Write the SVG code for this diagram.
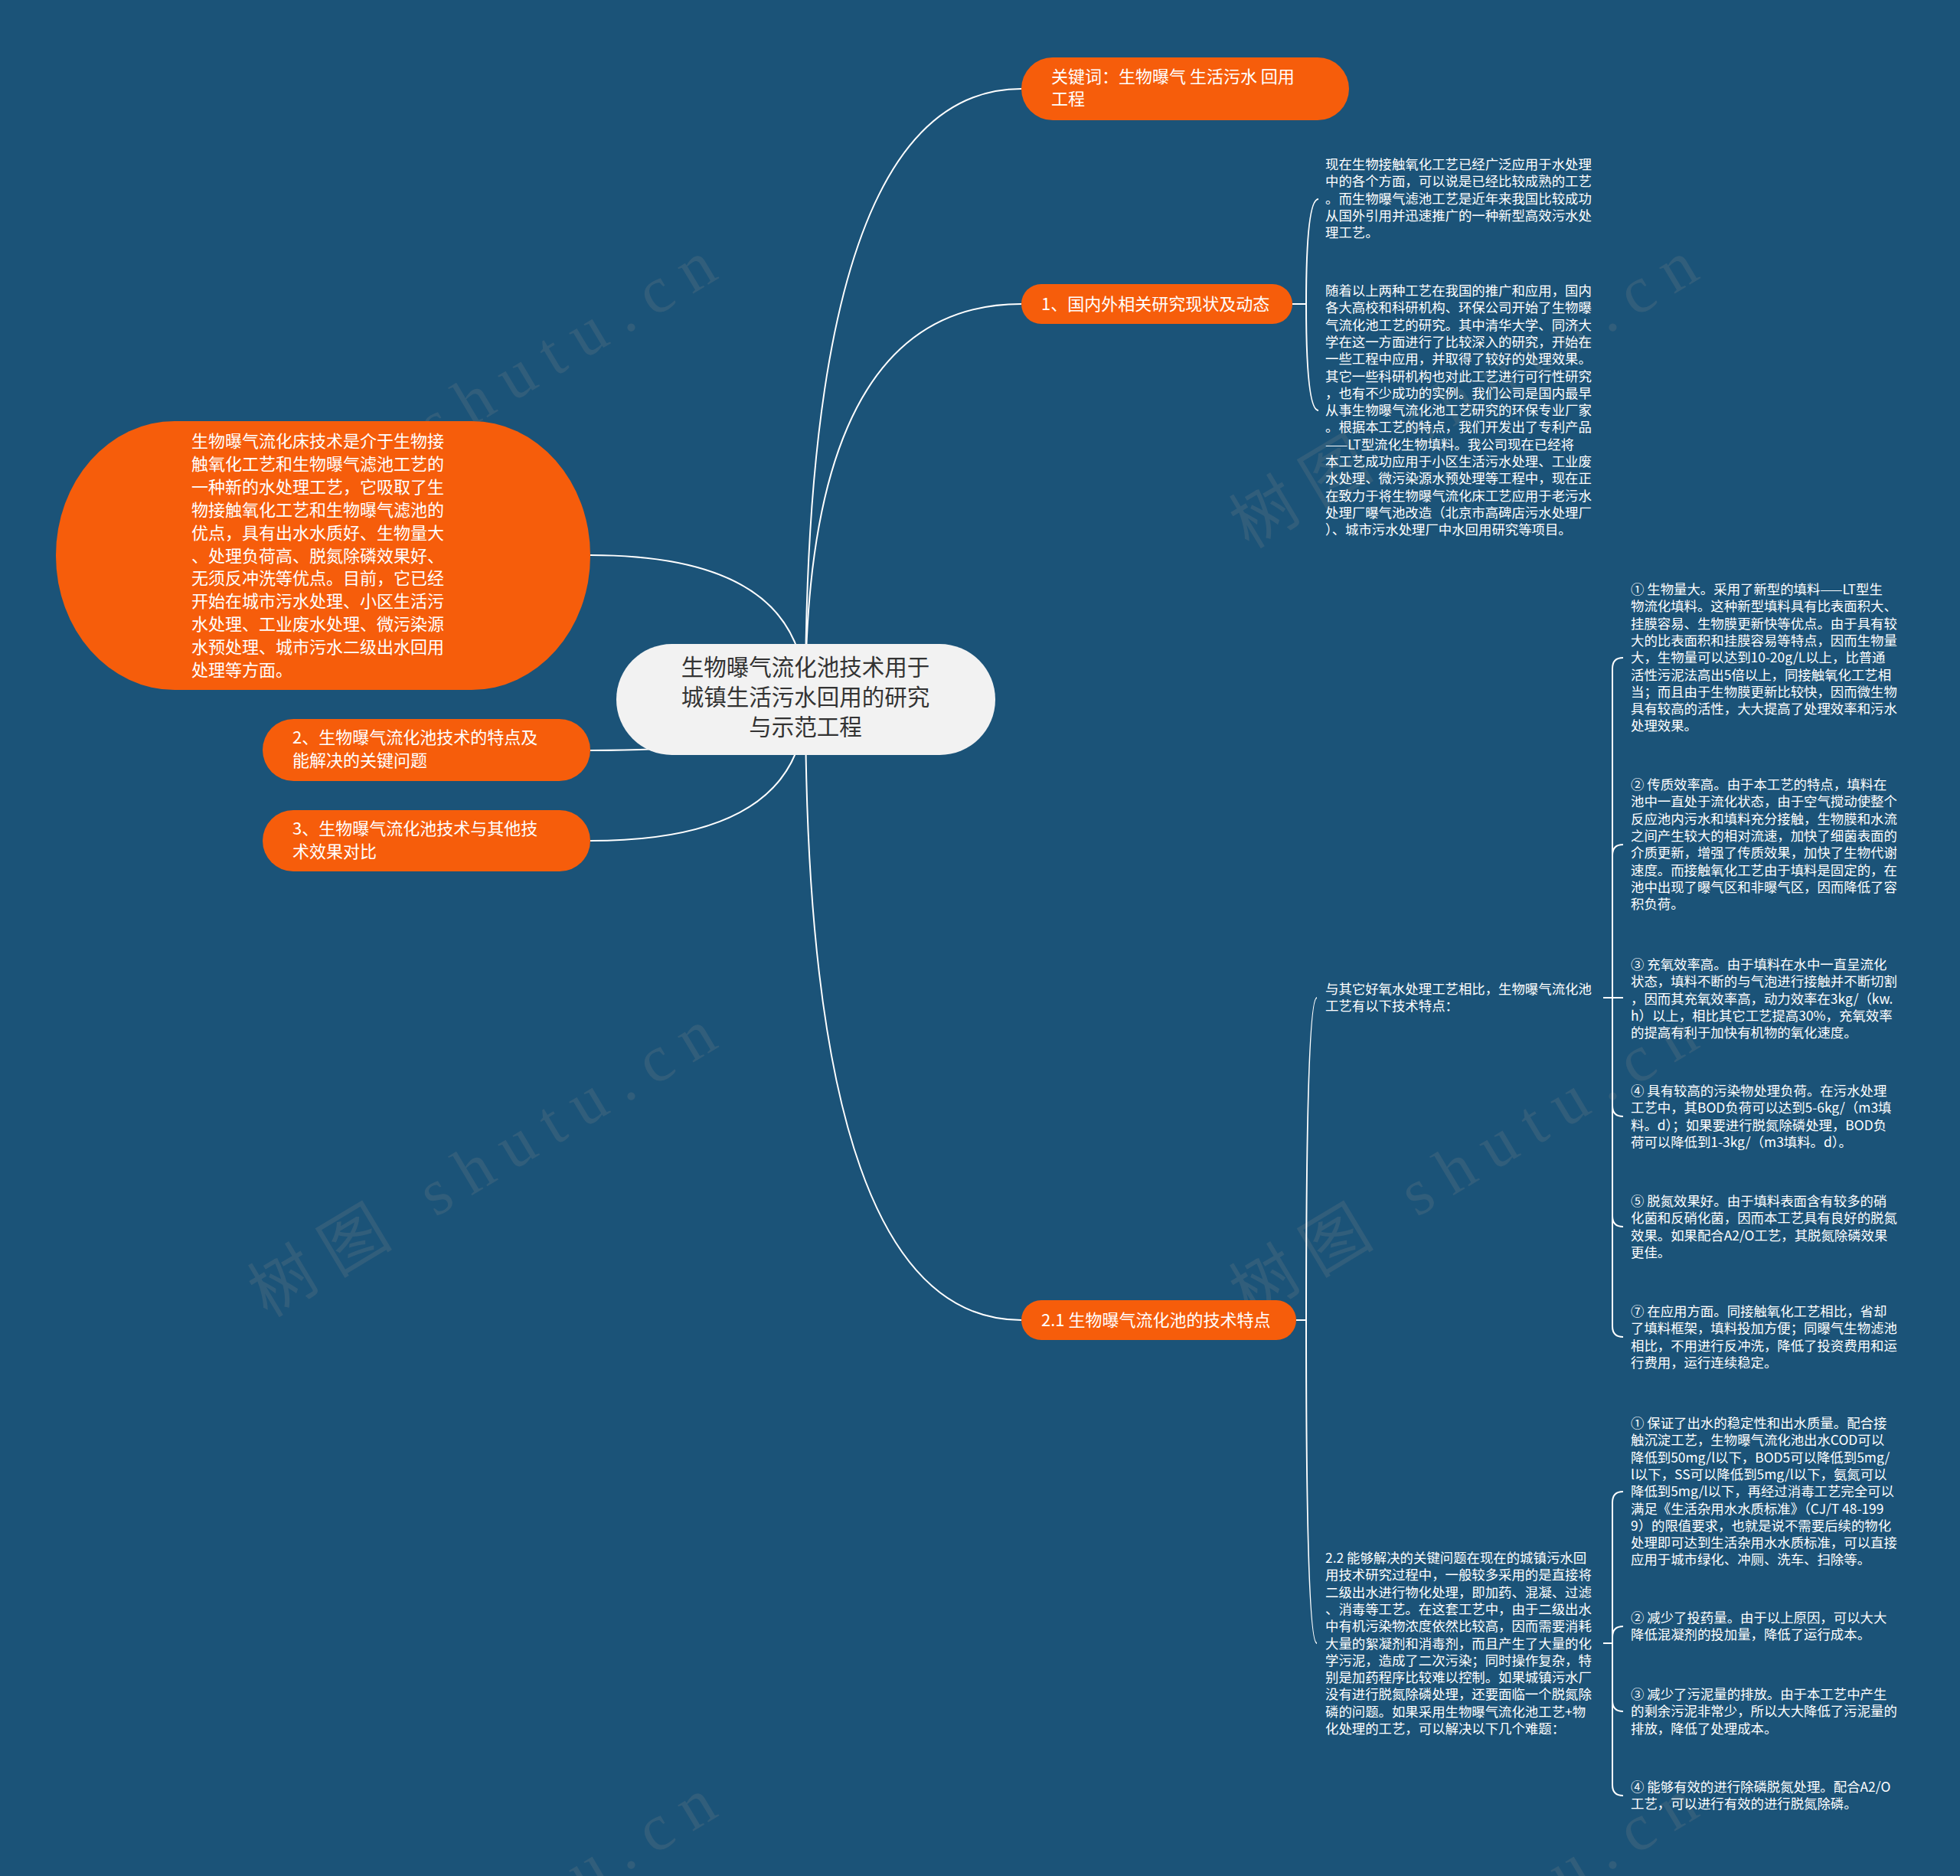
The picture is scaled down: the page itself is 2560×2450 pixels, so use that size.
<svg xmlns="http://www.w3.org/2000/svg" width="2560" height="2450" viewBox="0 0 2560 2450">
<style>
.bg{fill:#1b5378}
.wm{font-family:"Liberation Serif","Noto Sans CJK SC",serif;font-size:86px;fill:#8a8a8a;opacity:0.2}
.orange{fill:#f65d0b}
.center{fill:#f2f2f2}
.t{font-family:"Noto Sans CJK SC","Noto Sans",sans-serif}
.ot{font-size:22px;fill:#ffffff}
.ct{font-size:29.5px;fill:#333333;text-anchor:middle}
.st{font-size:17.4px;fill:#ffffff}
.conn path{fill:none;stroke:#ffffff;stroke-width:2}
</style>
<rect class="bg" x="0" y="0" width="2560" height="2450"/>

<g id="watermark">
<text class="wm" text-anchor="middle" textLength="690" lengthAdjust="spacing" transform="translate(645 540) rotate(-31)">树图 shutu.cn</text>
<text class="wm" text-anchor="middle" textLength="690" lengthAdjust="spacing" transform="translate(1927 540) rotate(-31)">树图 shutu.cn</text>
<text class="wm" text-anchor="middle" textLength="690" lengthAdjust="spacing" transform="translate(645 1544) rotate(-31)">树图 shutu.cn</text>
<text class="wm" text-anchor="middle" textLength="690" lengthAdjust="spacing" transform="translate(1927 1544) rotate(-31)">树图 shutu.cn</text>
<text class="wm" text-anchor="middle" textLength="690" lengthAdjust="spacing" transform="translate(645 2548) rotate(-31)">树图 shutu.cn</text>
<text class="wm" text-anchor="middle" textLength="690" lengthAdjust="spacing" transform="translate(1927 2548) rotate(-31)">树图 shutu.cn</text>
</g>

<g id="connectors" class="conn">
<path d="M1052 913 Q1052 116 1334 116"/>
<path d="M1052 913 Q1052 397 1334 397"/>
<path d="M1052 913 Q1052 1724 1334 1724"/>
<path d="M1052 913 Q1052 725 771 725"/>
<path d="M1052 913 Q1052 980 771 980"/>
<path d="M1052 913 Q1052 1098 771 1098"/>
<path d="M1688 397 L1706 397 Q1706 260 1722 260"/>
<path d="M1688 397 L1706 397 Q1706 536 1722 536"/>
<path d="M1693 1724 L1706 1724 Q1706 1303 1720 1303"/>
<path d="M1693 1724 L1706 1724 Q1706 2146 1720 2146"/>
<path d="M2094 1303 H2106 V873 Q2106 859 2120 859"/>
<path d="M2094 1303 H2106 V1117 Q2106 1103 2120 1103"/>
<path d="M2094 1303 H2120"/>
<path d="M2094 1303 H2106 V1444 Q2106 1458 2120 1458"/>
<path d="M2094 1303 H2106 V1588 Q2106 1602 2120 1602"/>
<path d="M2094 1303 H2106 V1732 Q2106 1746 2120 1746"/>
<path d="M2094 2146 H2106 V1962 Q2106 1948 2120 1948"/>
<path d="M2094 2146 H2106 V2138 Q2106 2124 2120 2124"/>
<path d="M2094 2146 H2106 V2221 Q2106 2235 2120 2235"/>
<path d="M2094 2146 H2106 V2331 Q2106 2345 2120 2345"/>
</g>

<g id="node-center">
<rect class="center" x="805" y="841" width="495" height="145" rx="72.5"/>
<text class="t ct" x="1052" y="882">生物曝气流化池技术用于</text>
<text class="t ct" x="1052" y="921">城镇生活污水回用的研究</text>
<text class="t ct" x="1052" y="960">与示范工程</text>
</g>

<g id="node-keywords">
<rect class="orange" x="1334" y="75" width="428" height="82" rx="41"/>
<text class="t ot" x="1373" y="108">关键词：生物曝气 生活污水 回用</text>
<text class="t ot" x="1373" y="137">工程</text>
</g>

<g id="node-1">
<rect class="orange" x="1334" y="371" width="354" height="52" rx="26"/>
<text class="t ot" x="1360" y="405">1、国内外相关研究现状及动态</text>
</g>

<g id="node-1a">
<text class="t st" x="1731" y="221">现在生物接触氧化工艺已经广泛应用于水处理</text>
<text class="t st" x="1731" y="243.3">中的各个方面，可以说是已经比较成熟的工艺</text>
<text class="t st" x="1731" y="265.6">。而生物曝气滤池工艺是近年来我国比较成功</text>
<text class="t st" x="1731" y="287.9">从国外引用并迅速推广的一种新型高效污水处</text>
<text class="t st" x="1731" y="310.2">理工艺。</text>
</g>

<g id="node-1b">
<text class="t st" x="1731" y="386">随着以上两种工艺在我国的推广和应用，国内</text>
<text class="t st" x="1731" y="408.3">各大高校和科研机构、环保公司开始了生物曝</text>
<text class="t st" x="1731" y="430.6">气流化池工艺的研究。其中清华大学、同济大</text>
<text class="t st" x="1731" y="452.9">学在这一方面进行了比较深入的研究，开始在</text>
<text class="t st" x="1731" y="475.2">一些工程中应用，并取得了较好的处理效果。</text>
<text class="t st" x="1731" y="497.5">其它一些科研机构也对此工艺进行可行性研究</text>
<text class="t st" x="1731" y="519.8">，也有不少成功的实例。我们公司是国内最早</text>
<text class="t st" x="1731" y="542.1">从事生物曝气流化池工艺研究的环保专业厂家</text>
<text class="t st" x="1731" y="564.4">。根据本工艺的特点，我们开发出了专利产品</text>
<text class="t st" x="1731" y="586.7">——LT型流化生物填料。我公司现在已经将</text>
<text class="t st" x="1731" y="609">本工艺成功应用于小区生活污水处理、工业废</text>
<text class="t st" x="1731" y="631.3">水处理、微污染源水预处理等工程中，现在正</text>
<text class="t st" x="1731" y="653.6">在致力于将生物曝气流化床工艺应用于老污水</text>
<text class="t st" x="1731" y="675.9">处理厂曝气池改造（北京市高碑店污水处理厂</text>
<text class="t st" x="1731" y="698.2">）、城市污水处理厂中水回用研究等项目。</text>
</g>

<g id="node-big">
<rect class="orange" x="73" y="550" width="698" height="351" rx="155" ry="175"/>
<text class="t ot" x="250" y="584">生物曝气流化床技术是介于生物接</text>
<text class="t ot" x="250" y="613.9">触氧化工艺和生物曝气滤池工艺的</text>
<text class="t ot" x="250" y="643.8">一种新的水处理工艺，它吸取了生</text>
<text class="t ot" x="250" y="673.7">物接触氧化工艺和生物曝气滤池的</text>
<text class="t ot" x="250" y="703.6">优点，具有出水水质好、生物量大</text>
<text class="t ot" x="250" y="733.5">、处理负荷高、脱氮除磷效果好、</text>
<text class="t ot" x="250" y="763.4">无须反冲洗等优点。目前，它已经</text>
<text class="t ot" x="250" y="793.3">开始在城市污水处理、小区生活污</text>
<text class="t ot" x="250" y="823.2">水处理、工业废水处理、微污染源</text>
<text class="t ot" x="250" y="853.1">水预处理、城市污水二级出水回用</text>
<text class="t ot" x="250" y="883">处理等方面。</text>
</g>

<g id="node-2">
<rect class="orange" x="343" y="939" width="428" height="81" rx="40.5"/>
<text class="t ot" x="382" y="971">2、生物曝气流化池技术的特点及</text>
<text class="t ot" x="382" y="1001">能解决的关键问题</text>
</g>

<g id="node-3">
<rect class="orange" x="343" y="1058" width="428" height="80" rx="40"/>
<text class="t ot" x="382" y="1090">3、生物曝气流化池技术与其他技</text>
<text class="t ot" x="382" y="1120">术效果对比</text>
</g>

<g id="node-21">
<rect class="orange" x="1334" y="1698" width="359" height="52" rx="26"/>
<text class="t ot" x="1360" y="1732">2.1 生物曝气流化池的技术特点</text>
</g>

<g id="node-A">
<text class="t st" x="1731" y="1298">与其它好氧水处理工艺相比，生物曝气流化池</text>
<text class="t st" x="1731" y="1320.3">工艺有以下技术特点：</text>
</g>

<g id="node-A1">
<text class="t st" x="2130" y="776">① 生物量大。采用了新型的填料——LT型生</text>
<text class="t st" x="2130" y="798.3">物流化填料。这种新型填料具有比表面积大、</text>
<text class="t st" x="2130" y="820.6">挂膜容易、生物膜更新快等优点。由于具有较</text>
<text class="t st" x="2130" y="842.9">大的比表面积和挂膜容易等特点，因而生物量</text>
<text class="t st" x="2130" y="865.2">大，生物量可以达到10-20g/L以上，比普通</text>
<text class="t st" x="2130" y="887.5">活性污泥法高出5倍以上，同接触氧化工艺相</text>
<text class="t st" x="2130" y="909.8">当；而且由于生物膜更新比较快，因而微生物</text>
<text class="t st" x="2130" y="932.1">具有较高的活性，大大提高了处理效率和污水</text>
<text class="t st" x="2130" y="954.4">处理效果。</text>
</g>

<g id="node-A2">
<text class="t st" x="2130" y="1031">② 传质效率高。由于本工艺的特点，填料在</text>
<text class="t st" x="2130" y="1053.3">池中一直处于流化状态，由于空气搅动使整个</text>
<text class="t st" x="2130" y="1075.6">反应池内污水和填料充分接触，生物膜和水流</text>
<text class="t st" x="2130" y="1097.9">之间产生较大的相对流速，加快了细菌表面的</text>
<text class="t st" x="2130" y="1120.2">介质更新，增强了传质效果，加快了生物代谢</text>
<text class="t st" x="2130" y="1142.5">速度。而接触氧化工艺由于填料是固定的，在</text>
<text class="t st" x="2130" y="1164.8">池中出现了曝气区和非曝气区，因而降低了容</text>
<text class="t st" x="2130" y="1187.1">积负荷。</text>
</g>

<g id="node-A3">
<text class="t st" x="2130" y="1266">③ 充氧效率高。由于填料在水中一直呈流化</text>
<text class="t st" x="2130" y="1288.3">状态，填料不断的与气泡进行接触并不断切割</text>
<text class="t st" x="2130" y="1310.6">，因而其充氧效率高，动力效率在3kg/（kw.</text>
<text class="t st" x="2130" y="1332.9">h）以上，相比其它工艺提高30%，充氧效率</text>
<text class="t st" x="2130" y="1355.2">的提高有利于加快有机物的氧化速度。</text>
</g>

<g id="node-A4">
<text class="t st" x="2130" y="1431">④ 具有较高的污染物处理负荷。在污水处理</text>
<text class="t st" x="2130" y="1453.3">工艺中，其BOD负荷可以达到5-6kg/（m3填</text>
<text class="t st" x="2130" y="1475.6">料。d）；如果要进行脱氮除磷处理，BOD负</text>
<text class="t st" x="2130" y="1497.9">荷可以降低到1-3kg/（m3填料。d）。</text>
</g>

<g id="node-A5">
<text class="t st" x="2130" y="1575">⑤ 脱氮效果好。由于填料表面含有较多的硝</text>
<text class="t st" x="2130" y="1597.3">化菌和反硝化菌，因而本工艺具有良好的脱氮</text>
<text class="t st" x="2130" y="1619.6">效果。如果配合A2/O工艺，其脱氮除磷效果</text>
<text class="t st" x="2130" y="1641.9">更佳。</text>
</g>

<g id="node-A7">
<text class="t st" x="2130" y="1719">⑦ 在应用方面。同接触氧化工艺相比，省却</text>
<text class="t st" x="2130" y="1741.3">了填料框架，填料投加方便；同曝气生物滤池</text>
<text class="t st" x="2130" y="1763.6">相比，不用进行反冲洗，降低了投资费用和运</text>
<text class="t st" x="2130" y="1785.9">行费用，运行连续稳定。</text>
</g>

<g id="node-B">
<text class="t st" x="1731" y="2041">2.2 能够解决的关键问题在现在的城镇污水回</text>
<text class="t st" x="1731" y="2063.3">用技术研究过程中，一般较多采用的是直接将</text>
<text class="t st" x="1731" y="2085.6">二级出水进行物化处理，即加药、混凝、过滤</text>
<text class="t st" x="1731" y="2107.9">、消毒等工艺。在这套工艺中，由于二级出水</text>
<text class="t st" x="1731" y="2130.2">中有机污染物浓度依然比较高，因而需要消耗</text>
<text class="t st" x="1731" y="2152.5">大量的絮凝剂和消毒剂，而且产生了大量的化</text>
<text class="t st" x="1731" y="2174.8">学污泥，造成了二次污染；同时操作复杂，特</text>
<text class="t st" x="1731" y="2197.1">别是加药程序比较难以控制。如果城镇污水厂</text>
<text class="t st" x="1731" y="2219.4">没有进行脱氮除磷处理，还要面临一个脱氮除</text>
<text class="t st" x="1731" y="2241.7">磷的问题。如果采用生物曝气流化池工艺+物</text>
<text class="t st" x="1731" y="2264">化处理的工艺，可以解决以下几个难题：</text>
</g>

<g id="node-B1">
<text class="t st" x="2130" y="1865">① 保证了出水的稳定性和出水质量。配合接</text>
<text class="t st" x="2130" y="1887.3">触沉淀工艺，生物曝气流化池出水COD可以</text>
<text class="t st" x="2130" y="1909.6">降低到50mg/l以下，BOD5可以降低到5mg/</text>
<text class="t st" x="2130" y="1931.9">l以下，SS可以降低到5mg/l以下，氨氮可以</text>
<text class="t st" x="2130" y="1954.2">降低到5mg/l以下，再经过消毒工艺完全可以</text>
<text class="t st" x="2130" y="1976.5">满足《生活杂用水水质标准》（CJ/T 48-199</text>
<text class="t st" x="2130" y="1998.8">9）的限值要求，也就是说不需要后续的物化</text>
<text class="t st" x="2130" y="2021.1">处理即可达到生活杂用水水质标准，可以直接</text>
<text class="t st" x="2130" y="2043.4">应用于城市绿化、冲厕、洗车、扫除等。</text>
</g>

<g id="node-B2">
<text class="t st" x="2130" y="2119">② 减少了投药量。由于以上原因，可以大大</text>
<text class="t st" x="2130" y="2141.3">降低混凝剂的投加量，降低了运行成本。</text>
</g>

<g id="node-B3">
<text class="t st" x="2130" y="2219">③ 减少了污泥量的排放。由于本工艺中产生</text>
<text class="t st" x="2130" y="2241.3">的剩余污泥非常少，所以大大降低了污泥量的</text>
<text class="t st" x="2130" y="2263.6">排放，降低了处理成本。</text>
</g>

<g id="node-B4">
<text class="t st" x="2130" y="2340">④ 能够有效的进行除磷脱氮处理。配合A2/O</text>
<text class="t st" x="2130" y="2362.3">工艺，可以进行有效的进行脱氮除磷。</text>
</g>
</svg>
